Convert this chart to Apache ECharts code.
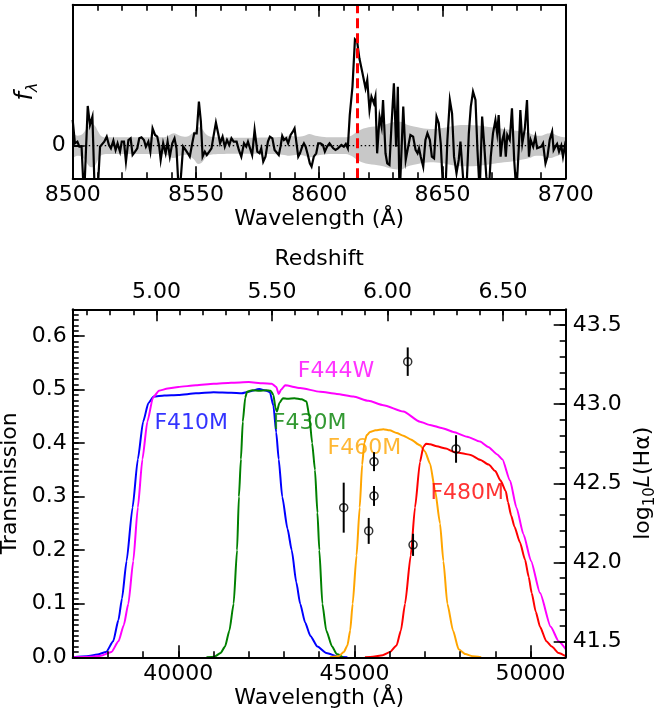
<!DOCTYPE html>
<html><head><meta charset="utf-8">
<script src="https://cdn.jsdelivr.net/npm/echarts@6/dist/echarts.min.js"></script>
<style>html,body{margin:0;padding:0;background:#fff;} #c{width:672px;height:715px;}</style>
</head><body><div id="c"></div>
<script>
// ---------- top panel: spectrum ----------
const specWave = [8500.0,8500.9,8501.9,8502.7,8503.6,8504.6,8506.1,8507.0,8508.0,8509.0,8510.1,8511.1,8511.9,8512.8,8513.8,8514.7,8515.5,8516.5,8517.4,8518.2,8519.2,8519.9,8520.8,8521.6,8522.6,8523.5,8524.3,8525.3,8526.2,8527.0,8527.9,8528.9,8529.7,8530.7,8531.5,8532.4,8533.4,8534.3,8535.1,8535.7,8536.7,8537.7,8538.5,8539.4,8540.4,8541.3,8542.1,8543.1,8543.9,8544.8,8545.8,8546.7,8547.5,8548.5,8549.3,8550.3,8551.2,8552.0,8552.7,8553.6,8554.4,8555.4,8556.3,8557.1,8558.1,8559.0,8559.8,8560.8,8561.7,8562.6,8563.5,8564.4,8565.3,
8566.5,8567.4,8568.4,8569.5,8570.4,8571.1,8571.9,8572.8,8573.8,8574.9,8575.8,8576.5,8577.3,8578.2,8579.2,8580.0,8581.0,8581.9,8582.7,8583.6,8584.3,8585.0,8585.7,8586.6,8587.4,8588.4,8589.3,8590.0,8590.8,8591.5,8592.2,8593.1,8593.8,8594.5,8595.4,8596.2,8596.9,8597.8,8598.8,8599.6,8600.5,8601.5,8602.3,8603.2,8604.2,8604.9,8605.7,8606.6,8607.6,8608.4,8609.0,8610.0,8610.8,8611.6,8612.4,8613.5,8614.5,8615.4,8616.3,8617.3,8618.1,8618.8,8619.5,8620.4,8621.2,8622.2,8622.8,8623.5,8624.5,8625.3,8625.9,8626.9,8627.6,8628.5,8629.3,8630.3,8631.2,8631.9,8632.6,
8634.1,8635.1,8636.1,8637.0,8638.1,8639.1,8639.9,8640.5,8641.2,8642.2,8643.1,8643.9,8644.9,8645.7,8646.6,8647.6,8648.5,8649.3,8650.3,8651.2,8652.0,8653.0,8653.9,8654.7,8655.7,8656.6,8657.3,8658.1,8658.8,8659.7,8660.7,8661.5,8662.4,8663.4,8664.2,8665.1,8666.1,8666.9,8667.8,8668.8,8669.6,8670.5,8671.5,8672.2,8672.8,8673.6,8674.3,8675.0,8675.7,8676.3,8677.3,8678.2,8679.1,8680.0,8681.0,8681.6,8682.4,8683.4,8684.3,8685.1,8685.8,8686.8,8687.7,8688.4,8689.2,8690.1,8690.8,8691.8,8692.6,8693.5,8694.5,8695.1,8695.8,8696.5,8697.3,8698.2,8698.9,8699.6,8700.0];
const specFlux = [0.77,0.07,0.12,-0.03,-0.03,-1.6,1.19,0.62,0.87,-1.6,-1.4,-0.03,-0.03,0.12,0.27,0.02,-0.08,0.15,-0.13,0.07,-0.18,0.12,0.12,-0.48,0.17,0.22,-0.28,-0.18,-0.08,0.22,0.25,0.17,-0.03,0.12,-0.18,0.52,0.32,0.27,-0.03,-0.43,0.07,-0.23,0.12,-0.33,0.07,0.22,-0.08,-1.5,-0.93,-0.03,-0.13,-0.23,-0.33,0.07,0.37,0.37,1.32,0.72,-0.33,-0.18,-0.28,-0.18,-0.08,0.27,0.69,0.37,0.07,0.27,-0.03,0.17,0.02,0.22,0.12,
0.12,-0.13,-0.33,0.07,-0.03,0.12,0.07,-0.28,0.47,-0.18,-0.23,-0.08,-0.48,-0.33,0.12,0.27,0.22,-0.13,-0.18,-0.28,-0.03,0.29,0.17,0.22,0.07,0.32,0.42,0.52,0.07,-0.33,-0.23,-0.03,0.07,-0.03,-0.28,-0.53,-0.63,-0.33,-0.23,0.07,0.07,0.02,-0.18,-0.03,0.07,0.12,-0.08,-0.13,-0.08,-0.03,0.02,-0.03,0.05,-0.08,0.92,1.77,3.19,3.12,2.62,2.27,2.22,1.72,1.97,1.07,1.47,1.27,1.47,-0.23,0.87,0.57,1.37,-0.23,-0.53,-0.58,0.57,1.87,-0.03,1.77,-1.6,
1.17,-0.43,-0.03,0.32,0.27,-0.13,-0.23,-0.08,-0.33,-0.63,0.17,0.37,0.17,-0.33,-0.38,0.87,0.67,0.07,-1.4,-1.4,0.17,1.37,0.97,-0.33,-0.83,-0.43,0.12,0.17,-1.4,-1.4,0.37,1.17,1.62,1.37,-0.13,-1.4,0.87,0.07,-0.93,-1.4,-0.33,0.37,0.77,0.37,0.92,-0.33,0.17,0.37,-0.33,0.32,0.17,1.12,-0.43,-1.4,-0.03,1.07,0.07,0.5,1.37,-0.33,0.17,-0.03,0.27,-0.08,-0.13,-0.03,0.07,-0.53,-0.33,0.17,0.42,-0.13,-0.03,0.05,-0.18,0.0,-0.33,-0.03,-0.2];
const errWave  = [8500,8502,8504,8506,8507.5,8509,8510.5,8512,8515,8520,8525,8530,8535,8538,8541,8543.5,8546,8549,8551,8552.5,8554,8556,8560,8565,8570,8575,8580,8585,8588,8591,8594,8596,8598.5,8601,8605,8610,8613,8616,8620,8625,8630,8633,8636,8640,8645,8650,8655,8660,8665,8670,8675,8680,8685,8688,8690,8692,8694,8696,8698,8700];
const errSigma = [0.38,0.3,0.35,0.55,0.65,0.6,0.4,0.27,0.25,0.25,0.25,0.25,0.25,0.27,0.37,0.3,0.27,0.4,0.55,0.5,0.35,0.27,0.25,0.24,0.24,0.24,0.25,0.27,0.3,0.27,0.3,0.35,0.3,0.27,0.25,0.25,0.3,0.45,0.55,0.6,0.7,0.72,0.62,0.55,0.5,0.53,0.6,0.62,0.6,0.55,0.5,0.45,0.38,0.3,0.3,0.35,0.37,0.32,0.27,0.25];
const lineCenter = 8615.4;

// ---------- bottom panel: filter curves ----------
const f410mWave  = [37000,37400,37700,37950,38150,38300,38400,38530,38700,38850,39000,39150,39300,39600,40000,40500,41000,41500,41800,42000,42300,42500,42600,42700,42780,42850,42950,43100,43220,43350,43460,43600,43750,43950,44200,44550,44800];
const f410mTrans = [0,0.002,0.005,0.01,0.03,0.07,0.11,0.18,0.28,0.37,0.44,0.475,0.487,0.489,0.49,0.493,0.495,0.494,0.493,0.496,0.501,0.498,0.495,0.47,0.42,0.37,0.30,0.24,0.20,0.14,0.10,0.065,0.04,0.02,0.008,0.001,0];
const f430mWave  = [40800,41022,41200,41326,41450,41570,41667,41720,41777,41830,41900,41950,42100,42300,42500,42620,42700,42760,42800,42870,42970,43100,43300,43500,43640,43720,43800,43880,43950,44004,44090,44200,44366,44500,44675];
const f430mTrans = [0,0.001,0.008,0.02,0.05,0.1,0.2,0.3,0.37,0.44,0.485,0.496,0.499,0.498,0.499,0.498,0.49,0.465,0.459,0.475,0.484,0.483,0.484,0.482,0.478,0.45,0.40,0.35,0.27,0.2,0.1,0.05,0.02,0.006,0];
const f444wWave  = [37000,37500,37800,38100,38300,38450,38580,38720,38850,38980,39120,39280,39450,39700,40000,40500,41000,41500,42000,42400,42650,42780,42850,42920,43030,43455,44029,44500,44970,45400,45821,46389,46863,47147,47500,47810,48200,48567,48800,49056,49200,49420,49600,49800,50015,50272,50575,50800,51000];
const f444wTrans = [0,0.001,0.003,0.01,0.03,0.06,0.1,0.18,0.28,0.37,0.44,0.485,0.498,0.502,0.505,0.508,0.511,0.513,0.514,0.512,0.511,0.505,0.492,0.50,0.508,0.503,0.496,0.492,0.487,0.479,0.471,0.459,0.44,0.434,0.428,0.421,0.412,0.403,0.393,0.379,0.37,0.33,0.28,0.23,0.18,0.12,0.057,0.03,0.015];
const f460mWave  = [44300,44550,44700,44800,44880,44950,45060,45150,45220,45280,45350,45443,45600,45821,46000,46200,46389,46600,46863,47000,47147,47289,47431,47526,47640,47800,47960,48150,48350,48600];
const f460mTrans = [0,0.002,0.01,0.022,0.05,0.1,0.19,0.28,0.36,0.40,0.415,0.421,0.424,0.426,0.424,0.419,0.414,0.407,0.396,0.385,0.362,0.3125,0.25,0.18,0.1,0.05,0.015,0.006,0.002,0];
const f480mWave  = [45300,45525,45800,46012,46196,46320,46438,46599,46721,46863,46957,47033,47150,47337,47600,47810,48050,48300,48567,48812,49000,49150,49300,49360,49450,49545,49700,49846,49950,50035,50150,50272,50450,50604,50800,51000];
const f480mTrans = [0,0.001,0.004,0.01,0.022,0.05,0.1,0.19,0.28,0.365,0.393,0.399,0.398,0.394,0.39,0.384,0.381,0.378,0.369,0.36,0.348,0.33,0.31,0.29,0.265,0.244,0.215,0.182,0.15,0.12,0.085,0.057,0.03,0.02,0.008,0.002];

// filter name labels (name, wavelength, transmission)
const filterNames = ['F410M','F430M','F444W','F460M','F480M'];
const filterColors = ['#0000ff','#008000','#ff00ff','#ffa500','#ff0000'];
const labelWave  = [40365,43728,44478,45284,48204];
const labelTrans = [0.4376,0.4376,0.534,0.391,0.306];

// H-alpha luminosities (right axis)
const haWave = [44696,45406,45557,45557,46514,46665,47886];
const haLogL = [42.346,42.199,42.42,42.637,43.269,42.111,42.717];
const haErr  = [0.158,0.082,0.063,0.06,0.09,0.07,0.087];

// tick labels
const specTickLabels = [8500,8550,8600,8650,8700];
const wlTickLabels = [40000,45000,50000];
const transTickLabels = [0,0.1,0.2,0.3,0.4,0.5,0.6];
const logLTickLabels = [41.5,42.0,42.5,43.0,43.5];
const zTickLabels = [5.0,5.5,6.0,6.5];
const haRest = 6563;
const wlMin = 37000, wlMax = 51000;

// minor tick positions
const specMinor = []; for (let k = 850; k <= 870; k++) specMinor.push(k*10);
const wlMinor = []; for (let k = 37; k <= 51; k++) wlMinor.push(k*1000);
const transMinor = []; for (let k = 0; k <= 65; k++) transMinor.push(k/100);
const logLMinor = []; for (let k = 414; k <= 436; k++) logLMinor.push(k/10);
const zMinor = []; for (let k = 47; k <= 67; k++) zMinor.push(k/10);

const FONT = 'DejaVu Sans';
const FS = 22;
const black = '#000';
const labelStyle = {color: black, fontFamily: FONT, fontSize: FS};
const tick = (len, vals) => ({show: true, inside: true, length: len, customValues: vals, lineStyle: {color: black, width: 1.6}});
const axisLineOn = {show: true, onZero: false, lineStyle: {color: black, width: 2}};
const axisLineOff = {show: false, onZero: false};
const noSplit = {show: false};

function pair(base, majorVals, minorVals, labelOpt, nameOpt) {
  const major = Object.assign({type:'value', z:5, axisLine: axisLineOn, axisTick: tick(12, majorVals),
    splitLine: noSplit,
    axisLabel: labelOpt ? Object.assign({}, labelStyle, {customValues: majorVals}, labelOpt) : {show:false}}, base, nameOpt || {});
  const minor = Object.assign({type:'value', z:5, axisLine: axisLineOff, axisTick: tick(6, minorVals),
    splitLine: noSplit, axisLabel: {show:false}}, base);
  return [major, minor];
}
const wlName = {name:'Wavelength (Å)', nameLocation:'middle', nameGap:30, nameTextStyle: Object.assign({}, labelStyle)};

const xAxes = [
  ...pair({gridIndex:0, position:'bottom', min:8500, max:8700}, specTickLabels, specMinor,
          {margin:6, formatter: v => String(Math.round(v))}, wlName),
  ...pair({gridIndex:0, position:'top', min:8500, max:8700}, specTickLabels, specMinor, null),
  ...pair({gridIndex:1, position:'bottom', min:wlMin, max:wlMax}, wlTickLabels, wlMinor,
          {margin:6, formatter: v => String(Math.round(v))}, wlName),
  ...pair({gridIndex:1, position:'top', min:wlMin/haRest-1, max:wlMax/haRest-1}, zTickLabels, zMinor,
          {margin:6, formatter: v => v.toFixed(2)},
          {name:'Redshift', nameLocation:'middle', nameGap:39, nameTextStyle: Object.assign({}, labelStyle)})
];
// x axis indices: 0/1 spec bottom, 2/3 spec top, 4/5 wl bottom, 6/7 redshift top

const yAxes = [
  ...pair({gridIndex:0, position:'left', min:-0.98, max:4.23}, [0], [0], {margin:7, formatter: () => '0'},
    {name:'{i|f}{s|λ}', nameLocation:'middle', nameRotate:90, nameGap:27,
     nameTextStyle:{rich:{
       i:{fontFamily:FONT, fontSize:24, fontStyle:'italic', color:black, lineHeight:30, verticalAlign:'middle'},
       s:{fontFamily:FONT, fontSize:16, fontStyle:'italic', color:black, lineHeight:16, verticalAlign:'bottom'}}}}),
  ...pair({gridIndex:0, position:'right', min:-0.98, max:4.23}, [0], [0], null),
  ...pair({gridIndex:1, position:'left', min:0, max:0.65}, transTickLabels, transMinor,
    {margin:6, formatter: v => v.toFixed(1)},
    {name:'Transmission', nameLocation:'middle', nameRotate:90, nameGap:48, nameTextStyle: Object.assign({}, labelStyle)}),
  ...pair({gridIndex:1, position:'right', min:41.4, max:43.6}, logLTickLabels, logLMinor,
    {margin:7, formatter: v => v.toFixed(1)},
    {name:'{n|log}{s|10}{it|L}{n|(Hα)}', nameLocation:'middle', nameRotate:90, nameGap:55,
     nameTextStyle:{rich:{
       n:{fontFamily:FONT, fontSize:FS, color:black, lineHeight:28, verticalAlign:'middle'},
       it:{fontFamily:FONT, fontSize:FS, fontStyle:'italic', color:black, lineHeight:28, verticalAlign:'middle'},
       s:{fontFamily:FONT, fontSize:15, color:black, lineHeight:15, verticalAlign:'bottom'}}}})
];
// y axis indices: 0/1 spec left, 2/3 spec right, 4/5 transmission left, 6/7 logL right

const zip = (a, b) => a.map((v, i) => [v, b[i]]);
const filterSeries = [
  [f410mWave, f410mTrans, filterColors[0]],
  [f430mWave, f430mTrans, filterColors[1]],
  [f444wWave, f444wTrans, filterColors[2]],
  [f460mWave, f460mTrans, filterColors[3]],
  [f480mWave, f480mTrans, filterColors[4]]
].map(([w, t, c]) => ({
  type:'line', xAxisIndex:4, yAxisIndex:4, data: zip(w, t), showSymbol:false, symbol:'none',
  smooth:0.2, smoothMonotone:'x',
  lineStyle:{color:c, width:2}, z:2, silent:true
}));

const series = [
  {type:'line', xAxisIndex:0, yAxisIndex:0, data: errWave.map((w, i) => [w, errSigma[i]]), symbol:'none', smooth:0.4,
   lineStyle:{width:0, opacity:0}, areaStyle:{color:'#c8c8c8', opacity:1, origin:0}, z:1, silent:true},
  {type:'line', xAxisIndex:0, yAxisIndex:0, data: errWave.map((w, i) => [w, -errSigma[i]]), symbol:'none', smooth:0.4,
   lineStyle:{width:0, opacity:0}, areaStyle:{color:'#c8c8c8', opacity:1, origin:0}, z:1, silent:true},
  {type:'line', xAxisIndex:0, yAxisIndex:0, data:[[8500,0],[8700,0]], symbol:'none',
   lineStyle:{color:black, width:1.2, type:[1.5,2.5]}, z:2, silent:true},
  {type:'line', xAxisIndex:0, yAxisIndex:0, data: zip(specWave, specFlux), symbol:'none',
   lineStyle:{color:black, width:2.2, join:'miter'}, z:3, silent:true, clip:true},
  {type:'line', xAxisIndex:0, yAxisIndex:0, data:[], z:4, silent:true,
   markLine:{silent:true, symbol:['none','none'], label:{show:false},
     lineStyle:{color:'#ff0000', width:3, type:[10,5]}, data:[{xAxis: lineCenter}]}},
  ...filterSeries,
  {type:'scatter', xAxisIndex:4, yAxisIndex:4, symbolSize:0, silent:true, z:3,
   data: filterNames.map((n, i) => ({name:n, value:[labelWave[i], labelTrans[i]],
     label:{show:true, position:'inside', formatter:n, color:filterColors[i], fontFamily:FONT, fontSize:FS}}))},
  {type:'custom', xAxisIndex:4, yAxisIndex:6, silent:true, z:4,
   data: haWave.map((w, i) => [w, haLogL[i], haErr[i]]),
   renderItem: (params, api) => {
     const x = api.value(0), y = api.value(1), e = api.value(2);
     const p1 = api.coord([x, y - e]), p2 = api.coord([x, y + e]);
     return {type:'line', shape:{x1:p1[0], y1:p1[1], x2:p2[0], y2:p2[1]}, style:{stroke:black, lineWidth:2}};
   }},
  {type:'scatter', xAxisIndex:4, yAxisIndex:6, silent:true, z:4, symbol:'circle', symbolSize:8,
   data: zip(haWave, haLogL), itemStyle:{color:'rgba(0,0,0,0)', borderColor:black, borderWidth:1.5}}
];

const chart = echarts.init(document.getElementById('c'), null, {renderer:'canvas'});
chart.setOption({
  animation:false,
  backgroundColor:'#ffffff',
  textStyle:{fontFamily:FONT},
  grid:[
    {left:72.7, top:4.7, width:493, height:173.6, containLabel:false, outerBoundsMode:'none'},
    {left:72.7, top:309.3, width:493, height:348, containLabel:false, outerBoundsMode:'none'}
  ],
  xAxis: xAxes,
  yAxis: yAxes,
  series: series
});
</script></body></html>
